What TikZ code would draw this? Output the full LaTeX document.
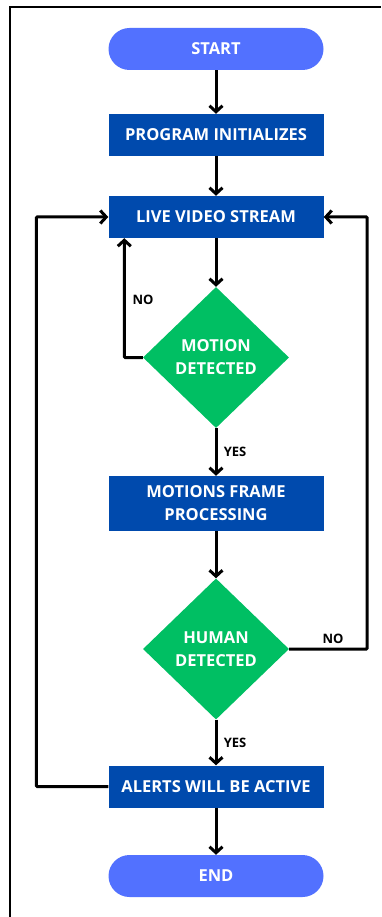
\documentclass[tikz,border=0pt]{standalone}
\usepackage{fontspec}
\setmainfont{Open Sans}
\usetikzlibrary{arrows.meta, shapes.geometric}
\definecolor{pillblue}{HTML}{5271FF}
\definecolor{boxblue}{HTML}{004AAD}
\definecolor{decgreen}{HTML}{00BF63}
\tikzset{>={Straight Barb[length=6pt,width=13pt]}}
\tikzset{
  pill/.style = {draw = none, fill = pillblue, rounded corners = 21pt, minimum width = 215pt, minimum height = 42pt, text = white, font = \fontsize{16.5}{23}\selectfont\bfseries},
  procbox/.style = {draw = none, fill = boxblue, minimum width = 215pt, minimum height = 42pt, text = white, align = center, font = \fontsize{16.5}{23}\selectfont\bfseries},
  decision/.style = {diamond, draw = none, fill = decgreen, inner sep = 0pt, minimum width = 146pt, minimum height = 141pt, text = white, align = center, font = \fontsize{16.5}{23}\selectfont\bfseries},
  flow/.style = {->, line width = 3pt},
  tag/.style = {font = \fontsize{13}{15}\selectfont\bfseries, text = black}
}

\begin{document}
\begin{tikzpicture}[x = 1pt, y = -1pt]
\useasboundingbox (0, 0) rectangle (381, 917);
\draw[line width = 1.6] (10, 917) -- (10, 7) -- (381, 7);

\node[pill] (start) at (216, 49) {START};
\node[procbox] (init) at (216, 135) {PROGRAM INITIALIZES};
\node[procbox] (live) at (216, 217) {LIVE VIDEO STREAM};
\node[decision] (motion) at (216, 357.5) {MOTION\\DETECTED};
\node[procbox, minimum height = 55pt] (frame) at (216, 503.5) {MOTIONS FRAME\\PROCESSING};
\node[decision] (human) at (216, 649) {HUMAN\\DETECTED};
\node[procbox] (alerts) at (216, 786.5) {ALERTS WILL BE ACTIVE};
\node[pill] (end) at (216, 876) {END};

\draw[flow] (start) -- (init);
\draw[flow] (init) -- (live);
\draw[flow] (live) -- (motion);
\draw[flow] (motion) -- node[tag, anchor = west, xshift = 3pt] (yesa) {YES} (frame);
\draw[flow] (frame) -- (human);
\draw[flow] (human) -- node[tag, anchor = west, xshift = 3pt] (yesb) {YES} (alerts);
\draw[flow] (alerts) -- (end);

\draw[flow, rounded corners = 1pt] (motion.west) -| ([xshift = 16pt]live.south west);
\node[tag] (noa) at (143, 300) {NO};
\draw[flow, rounded corners = 1pt] (human.east) -- ++(78, 0) |- (live.east);
\node[tag] (nob) at (333, 639) {NO};
\draw[flow, rounded corners = 1pt] (alerts.west) -- ++(-72, 0) |- (live.west);
\end{tikzpicture}
\end{document}
